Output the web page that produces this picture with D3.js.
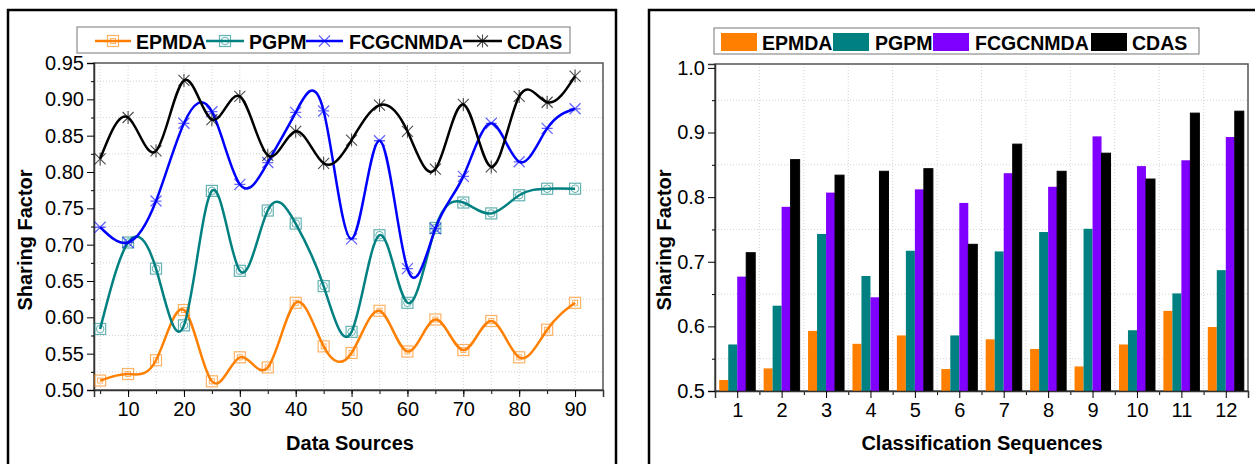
<!DOCTYPE html>
<html>
<head>
<meta charset="utf-8">
<script src="https://cdn.jsdelivr.net/npm/d3@7"></script>
<style>
  body { margin: 0; background: #fff; }
  text { font-family: "Liberation Sans", Arial, sans-serif; }
</style>
</head>
<body>
<div id="chart"></div>
<script>
// data for the line chart (left)
const sources = [5, 10, 15, 20, 25, 30, 35, 40, 45, 50, 55, 60, 65, 70, 75, 80, 85, 90];
const epmdaLine = [0.513, 0.522, 0.541, 0.610, 0.512, 0.545, 0.531, 0.620, 0.560, 0.551, 0.609, 0.553, 0.597, 0.555, 0.595, 0.545, 0.583, 0.620];
const pgpmLine = [0.584, 0.703, 0.667, 0.589, 0.774, 0.664, 0.747, 0.729, 0.643, 0.580, 0.713, 0.620, 0.723, 0.758, 0.743, 0.768, 0.777, 0.777];
const fcgLine = [0.724, 0.703, 0.760, 0.867, 0.883, 0.783, 0.813, 0.882, 0.884, 0.708, 0.843, 0.667, 0.722, 0.794, 0.867, 0.814, 0.860, 0.887];
const cdasLine = [0.818, 0.875, 0.829, 0.926, 0.872, 0.904, 0.823, 0.856, 0.812, 0.844, 0.892, 0.856, 0.804, 0.893, 0.807, 0.904, 0.896, 0.932];
const leftYTicks = [0.50, 0.55, 0.60, 0.65, 0.70, 0.75, 0.80, 0.85, 0.90, 0.95];
const leftXTicks = [10, 20, 30, 40, 50, 60, 70, 80, 90];

// data for the bar chart (right)
const sequences = [1, 2, 3, 4, 5, 6, 7, 8, 9, 10, 11, 12];
const epmdaBar = [0.517, 0.535, 0.593, 0.573, 0.586, 0.534, 0.580, 0.565, 0.538, 0.572, 0.624, 0.599];
const pgpmBar = [0.572, 0.632, 0.743, 0.678, 0.717, 0.586, 0.716, 0.746, 0.751, 0.594, 0.651, 0.687];
const fcgBar = [0.677, 0.785, 0.807, 0.645, 0.812, 0.791, 0.837, 0.816, 0.894, 0.848, 0.857, 0.893];
const cdasBar = [0.714, 0.858, 0.834, 0.840, 0.844, 0.727, 0.882, 0.840, 0.868, 0.828, 0.930, 0.933];
const rightYTicks = [0.5, 0.6, 0.7, 0.8, 0.9, 1.0];

const names = ["EPMDA", "PGPM", "FCGCNMDA", "CDAS"];

const svg = d3.select("#chart").append("svg")
  .attr("width", 1255)
  .attr("height", 464);

// outer panel frames
svg.append("rect").attr("x", 8).attr("y", 10).attr("width", 608).attr("height", 470)
  .attr("fill", "#fff").attr("stroke", "#000").attr("stroke-width", 2.5);
svg.append("rect").attr("x", 649).attr("y", 10).attr("width", 640).attr("height", 470)
  .attr("fill", "#fff").attr("stroke", "#000").attr("stroke-width", 2.5);

// ---------------- left: line chart ----------------
const lineColors = ["#ff8000", "#008080", "#0000ff", "#000000"];
const lineData = [epmdaLine, pgpmLine, fcgLine, cdasLine];

const x = d3.scaleLinear().domain([3.9, 95]).range([94, 603]);
const y = d3.scaleLinear().domain([0.5, 0.95]).range([390, 63]);

const left = svg.append("g");

// dotted grid
left.selectAll(".vg").data(d3.range(5, 95, 5)).join("line")
  .attr("x1", d => x(d)).attr("x2", d => x(d)).attr("y1", 63).attr("y2", 390)
  .attr("stroke", "#c8c8c8").attr("stroke-width", 0.8).attr("stroke-dasharray", "1,2");
left.selectAll(".hg").data(d3.range(0.525, 0.95, 0.05)).join("line")
  .attr("x1", 94).attr("x2", 603).attr("y1", d => y(d)).attr("y2", d => y(d))
  .attr("stroke", "#c8c8c8").attr("stroke-width", 0.8).attr("stroke-dasharray", "1,2");

// frame
left.append("rect").attr("x", 94).attr("y", 63).attr("width", 509).attr("height", 327)
  .attr("fill", "none").attr("stroke", "#555").attr("stroke-width", 1.5);

// axes
left.append("g")
  .attr("transform", "translate(0,390)")
  .call(d3.axisBottom(x).tickValues(d3.range(5, 95, 5)).tickSize(4).tickFormat(""))
  .call(g => g.select(".domain").remove());
left.append("g")
  .attr("transform", "translate(0,390)")
  .call(d3.axisBottom(x).tickValues(leftXTicks).tickSize(7).tickPadding(5).tickFormat(d3.format("d")))
  .call(g => g.select(".domain").attr("stroke", "#333").attr("stroke-width", 1.5))
  .call(g => g.selectAll("text").attr("font-size", 20).attr("fill", "#000"));
left.append("g")
  .attr("transform", "translate(94,0)")
  .call(d3.axisLeft(y).tickValues(d3.range(0.525, 0.95, 0.05)).tickSize(3).tickFormat(""))
  .call(g => g.select(".domain").remove());
left.append("g")
  .attr("transform", "translate(94,0)")
  .call(d3.axisLeft(y).tickValues(leftYTicks).tickSize(7).tickPadding(3).tickFormat(d3.format(".2f")))
  .call(g => g.select(".domain").attr("stroke", "#333").attr("stroke-width", 1.5))
  .call(g => g.selectAll("text").attr("font-size", 20).attr("fill", "#000"));

// marker shapes
function marker(g, kind, color) {
  const s = 5.5;
  if (kind === 0) {
    g.append("rect").attr("x", -s).attr("y", -s).attr("width", 2 * s).attr("height", 2 * s)
      .attr("fill", "none").attr("stroke", color).attr("stroke-width", 1.2).attr("opacity", 0.6);
    g.append("rect").attr("x", -2.5).attr("y", -2.5).attr("width", 5).attr("height", 5)
      .attr("fill", "none").attr("stroke", color).attr("stroke-width", 1).attr("opacity", 0.6);
  } else if (kind === 1) {
    g.append("rect").attr("x", -s).attr("y", -s).attr("width", 2 * s).attr("height", 2 * s)
      .attr("fill", "none").attr("stroke", color).attr("stroke-width", 1.2).attr("opacity", 0.6);
    g.append("circle").attr("r", 3.8)
      .attr("fill", "none").attr("stroke", color).attr("stroke-width", 1).attr("opacity", 0.6);
  } else if (kind === 2) {
    g.append("path").attr("d", `M${-s},${-s}L${s},${s}M${-s},${s}L${s},${-s}M${-s},0L${s},0`)
      .attr("stroke", color).attr("stroke-width", 1.3).attr("opacity", 0.6);
  } else {
    g.append("path").attr("d", `M${-s},${-s}L${s},${s}M${-s},${s}L${s},${-s}M0,${-s - 1}L0,${s + 1}`)
      .attr("stroke", color).attr("stroke-width", 1.1).attr("opacity", 0.7);
  }
}

// spline lines + markers
const line = d3.line().curve(d3.curveNatural);
lineData.forEach((vals, k) => {
  const pts = sources.map((s, i) => [x(s), y(vals[i])]);
  left.append("path")
    .attr("d", line(pts))
    .attr("fill", "none")
    .attr("stroke", lineColors[k])
    .attr("stroke-width", 2.5);
  pts.forEach(p => {
    const g = left.append("g").attr("transform", `translate(${p[0]},${p[1]})`);
    marker(g, k, lineColors[k]);
  });
});

// left legend
left.append("rect").attr("x", 77).attr("y", 27).attr("width", 493).attr("height", 26)
  .attr("fill", "#fff").attr("stroke", "#777").attr("stroke-width", 1);
const legX = [[95, 131, 136], [206, 244, 249], [306, 343, 349], [463, 502, 507]];
names.forEach((n, k) => {
  left.append("line").attr("x1", legX[k][0]).attr("x2", legX[k][1]).attr("y1", 41).attr("y2", 41)
    .attr("stroke", lineColors[k]).attr("stroke-width", 2.5);
  const g = left.append("g").attr("transform", `translate(${(legX[k][0] + legX[k][1]) / 2},41)`);
  marker(g, k, lineColors[k]);
  left.append("text").attr("x", legX[k][2]).attr("y", 49)
    .attr("font-size", 19.5).attr("font-weight", "bold").text(n);
});

// axis titles
left.append("text").attr("x", 350).attr("y", 450).attr("text-anchor", "middle")
  .attr("font-size", 20).attr("font-weight", "bold").text("Data Sources");
left.append("text").attr("transform", "translate(32,240) rotate(-90)").attr("text-anchor", "middle")
  .attr("font-size", 20).attr("font-weight", "bold").text("Sharing Factor");

// ---------------- right: bar chart ----------------
const barColors = ["#ff8000", "#008080", "#8000ff", "#000000"];
const barData = [epmdaBar, pgpmBar, fcgBar, cdasBar];

const xb = d3.scaleLinear().domain([0.5, 12.5]).range([715, 1248]);
const yb = d3.scaleLinear().domain([0.5, 1.006]).range([391, 64]);
const barW = 9;

const right = svg.append("g");

right.selectAll(".vg").data(d3.range(1.5, 12.5, 1)).join("line")
  .attr("x1", d => xb(d)).attr("x2", d => xb(d)).attr("y1", 64).attr("y2", 391)
  .attr("stroke", "#c8c8c8").attr("stroke-width", 0.8).attr("stroke-dasharray", "1,2");
right.selectAll(".hg").data(d3.range(0.55, 1.0, 0.1)).join("line")
  .attr("x1", 715).attr("x2", 1248).attr("y1", d => yb(d)).attr("y2", d => yb(d))
  .attr("stroke", "#c8c8c8").attr("stroke-width", 0.8).attr("stroke-dasharray", "1,2");

right.append("rect").attr("x", 715).attr("y", 64).attr("width", 533).attr("height", 327)
  .attr("fill", "none").attr("stroke", "#555").attr("stroke-width", 1.5);

// bars
barData.forEach((vals, k) => {
  right.selectAll(".b" + k).data(vals).join("rect")
    .attr("x", (d, i) => xb(sequences[i]) - 2 * barW + k * barW)
    .attr("y", d => yb(d))
    .attr("width", barW)
    .attr("height", d => yb(0.5) - yb(d))
    .attr("fill", barColors[k])
    .attr("stroke", k === 3 ? "#000" : "none");
});

right.append("g")
  .attr("transform", "translate(0,391)")
  .call(d3.axisBottom(xb).tickValues(d3.range(1.5, 12.5, 1)).tickSize(4).tickFormat(""))
  .call(g => g.select(".domain").remove());
right.append("g")
  .attr("transform", "translate(0,391)")
  .call(d3.axisBottom(xb).tickValues(sequences).tickSize(7).tickPadding(5).tickFormat(d3.format("d")))
  .call(g => g.select(".domain").attr("stroke", "#333").attr("stroke-width", 1.5))
  .call(g => g.selectAll("text").attr("font-size", 20).attr("fill", "#000"));
right.append("g")
  .attr("transform", "translate(715,0)")
  .call(d3.axisLeft(yb).tickValues(d3.range(0.55, 1.0, 0.1)).tickSize(3).tickFormat(""))
  .call(g => g.select(".domain").remove());
right.append("g")
  .attr("transform", "translate(715,0)")
  .call(d3.axisLeft(yb).tickValues(rightYTicks).tickSize(7).tickPadding(3).tickFormat(d3.format(".1f")))
  .call(g => g.select(".domain").attr("stroke", "#333").attr("stroke-width", 1.5))
  .call(g => g.selectAll("text").attr("font-size", 20).attr("fill", "#000"));

// right legend
right.append("rect").attr("x", 714).attr("y", 28).attr("width", 485).attr("height", 26)
  .attr("fill", "#fff").attr("stroke", "#777").attr("stroke-width", 1);
const legB = [[721, 762], [833, 875], [933, 975], [1091, 1132]];
names.forEach((n, k) => {
  right.append("rect").attr("x", legB[k][0]).attr("y", 33).attr("width", 36).attr("height", 18)
    .attr("fill", barColors[k]);
  right.append("text").attr("x", legB[k][1]).attr("y", 50)
    .attr("font-size", 19.5).attr("font-weight", "bold").text(n);
});

right.append("text").attr("x", 982).attr("y", 450).attr("text-anchor", "middle")
  .attr("font-size", 20).attr("font-weight", "bold").text("Classification Sequences");
right.append("text").attr("transform", "translate(671,240) rotate(-90)").attr("text-anchor", "middle")
  .attr("font-size", 20).attr("font-weight", "bold").text("Sharing Factor");
</script>
</body>
</html>
